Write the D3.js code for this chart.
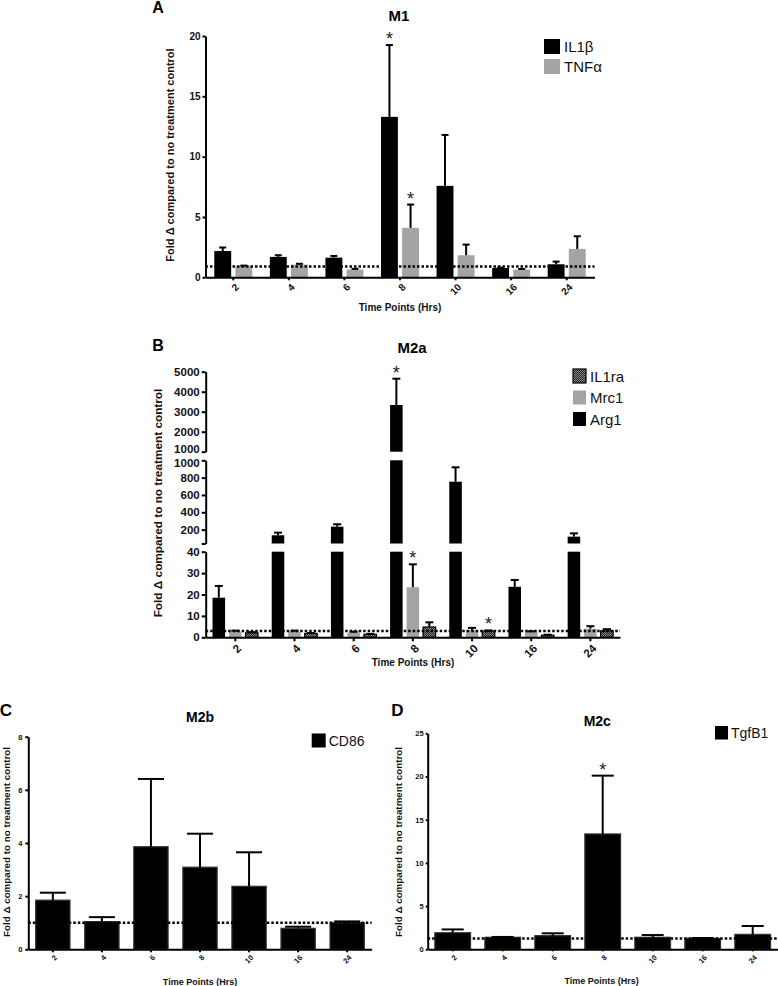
<!DOCTYPE html>
<html><head><meta charset="utf-8">
<script src="https://cdn.jsdelivr.net/npm/d3@7"></script>
<style>
body{margin:0;background:#fff}
text{font-family:"Liberation Sans",Arial,Helvetica,sans-serif}
</style>
</head><body>
<svg id="chart" width="778" height="986"></svg>
<script>
// ---------- DATA ----------
const timePoints = ["2","4","6","8","10","16","24"];

// Panel A (M1)
const il1bMean = [2.18, 1.69, 1.63, 13.3, 7.58, 0.77, 1.08];
const il1bSem  = [0.29, 0.14, 0.14, 5.95, 4.22, 0.03, 0.22];
const tnfaMean = [0.94, 1.05, 0.64, 4.1, 1.83, 0.64, 2.35];
const tnfaSem  = [0.03, 0.07, 0.06, 1.93, 0.88, 0.05, 1.05];
const m1Ref = 0.9;
const m1Stars = [["IL1β","8"],["TNFα","8"]];
const yTicksA = [0,5,10,15,20];

// Panel B (M2a)
const arg1Mean  = [18.5, 135, 234, 3335, 753, 23.6, 119];
const arg1Sem   = [5.5, 30, 28, 1315, 166, 3.2, 38];
const mrc1Mean  = [2.7, 2.7, 2.2, 23.4, 3.4, 2.5, 4.0];
const mrc1Sem   = [0.4, 0.4, 0.4, 10.7, 1.0, 0.3, 1.2];
const il1raMean = [2.1, 1.8, 1.4, 4.8, 2.9, 1.0, 3.0];
const il1raSem  = [0.3, 0.2, 0.2, 2.2, 0.3, 0.2, 0.8];
const m2aRef = 3;
const m2aStars = [["Arg1","8"],["Mrc1","8"],["IL1ra","10"]];
const yTicksB0 = [0,10,20,30,40];
const yTicksB1 = [40,200,400,600,800,1000];
const yTicksB2 = [1000,2000,3000,4000,5000];

// Panel C (M2b)
const cd86Mean = [1.85, 1.04, 3.86, 3.09, 2.37, 0.79, 1.0];
const cd86Sem  = [0.28, 0.17, 2.55, 1.26, 1.28, 0.06, 0.05];
const m2bRef = 1.0;
const yTicksC = [0,2,4,6,8];

// Panel D (M2c)
const tgfMean = [1.92, 1.39, 1.58, 13.35, 1.39, 1.27, 1.73];
const tgfSem  = [0.38, 0.04, 0.27, 6.75, 0.26, 0.04, 0.97];
const m2cRef = 1.25;
const m2cStars = [["TgfB1","8"]];
const yTicksD = [0,5,10,15,20,25];

const yLabel = "Fold Δ compared to no treatment control";
const xLabel = "Time Points (Hrs)";
const GRAY = "#a4a4a4";

// ---------- DRAW ----------
const svg = d3.select("#chart");
const defs = svg.append("defs");
const pat = defs.append("pattern").attr("id","hatch").attr("patternUnits","userSpaceOnUse")
  .attr("width",2).attr("height",2);
pat.append("rect").attr("width",2).attr("height",2).attr("fill","#222");
pat.append("rect").attr("width",1).attr("height",1).attr("fill","#8c8c8c");
pat.append("rect").attr("x",1).attr("y",1).attr("width",1).attr("height",1).attr("fill","#8c8c8c");

function drawPanel(p) {
  const g = svg.append("g");
  const x0 = d3.scaleBand().domain(timePoints).range(p.xRange);
  const x1 = d3.scaleBand().domain(p.series.map(s => s.name))
    .range([(x0.step() - p.groupW) / 2, (x0.step() + p.groupW) / 2]).paddingInner(p.pad);
  const segs = p.segs.map(s => Object.assign({}, s, {scale: d3.scaleLinear().domain(s.domain).range(s.range)}));
  const yOf = v => { for (const s of segs) if (v <= s.domain[1]) return s.scale(v); return segs[segs.length-1].scale(v); };
  const base = segs[0].scale(segs[0].domain[0]);
  const xEnd = p.xRange[1];

  // bars
  p.series.forEach(s => {
    const rows = timePoints.map((t, i) => ({t, m: s.mean[i], e: s.sem[i]}));
    segs.forEach(seg => {
      g.append("g").selectAll("rect").data(rows.filter(r => r.m > seg.domain[0])).join("rect")
        .attr("x", r => x0(r.t) + x1(s.name))
        .attr("width", x1.bandwidth())
        .attr("y", r => seg.scale(Math.min(r.m, seg.domain[1])))
        .attr("height", r => seg.scale(seg.domain[0]) - seg.scale(Math.min(r.m, seg.domain[1])))
        .attr("fill", s.fill)
        .attr("stroke", s.stroke || "none")
        .attr("stroke-width", s.stroke ? 1.2 : 0);
    });
    const eg = g.append("g").selectAll("g").data(rows).join("g");
    const cx = r => x0(r.t) + x1(s.name) + x1.bandwidth() / 2;
    eg.append("line").attr("x1", cx).attr("x2", cx)
      .attr("y1", r => yOf(r.m)).attr("y2", r => yOf(r.m + r.e))
      .attr("stroke", "#000").attr("stroke-width", p.errW);
    eg.append("line").attr("x1", r => cx(r) - p.cap / 2).attr("x2", r => cx(r) + p.cap / 2)
      .attr("y1", r => yOf(r.m + r.e)).attr("y2", r => yOf(r.m + r.e))
      .attr("stroke", "#000").attr("stroke-width", p.errW);
    // stars
    (p.stars || []).filter(st => st[0] === s.name).forEach(st => {
      const i = timePoints.indexOf(st[1]);
      g.append("text").attr("x", x0(st[1]) + x1(s.name) + x1.bandwidth() / 2)
        .attr("y", yOf(s.mean[i] + s.sem[i]) - p.starOff)
        .attr("text-anchor", "middle").attr("font-size", p.starSize)
        .attr("fill", "#222").text("*");
    });
  });

  // reference dotted line
  g.append("line").attr("x1", p.xRange[0]).attr("x2", xEnd)
    .attr("y1", yOf(p.ref)).attr("y2", yOf(p.ref))
    .attr("stroke", "#000").attr("stroke-width", p.dotW).attr("stroke-dasharray", p.dash);

  // y axes (segments)
  segs.forEach(seg => {
    const ax = g.append("g").attr("transform", `translate(${p.xRange[0]},0)`)
      .call(d3.axisLeft(seg.scale).tickValues(seg.ticks).tickSize(p.tickLen).tickPadding(p.tickPad).tickSizeOuter(0)
        .tickFormat(v => (seg.hide && seg.hide.includes(v)) ? "" : d3.format("d")(v)));
    ax.select(".domain").attr("stroke-width", p.axisW);
    ax.selectAll(".tick line").attr("stroke-width", p.axisW);
    ax.selectAll("text").attr("font-size", p.tickFont).attr("font-weight", "bold")
      .attr("font-family", '"Liberation Sans",Arial,sans-serif').attr("fill", "#111")
      .attr("transform", v => (seg.shift && seg.shift[v]) ? `translate(0,${seg.shift[v]})` : null);
  });

  // x axis
  const xa = g.append("g").attr("transform", `translate(0,${base})`)
    .call(d3.axisBottom(x0).tickSize(p.tickLen).tickSizeOuter(0));
  xa.select(".domain").attr("stroke-width", p.axisW);
  xa.selectAll(".tick line").attr("stroke-width", p.axisW);
  xa.selectAll("text").attr("font-size", p.xTickFont).attr("font-weight", "bold")
    .attr("font-family", '"Liberation Sans",Arial,sans-serif').attr("fill", "#111")
    .attr("x", 0).attr("y", 0).attr("dy", "0.35em")
    .attr("text-anchor", "end")
    .attr("transform", `translate(${p.xLabOff[0]},${p.xLabOff[1]}) rotate(-45)`);

  // titles & labels
  g.append("text").attr("x", p.title[0]).attr("y", p.title[1]).attr("text-anchor", "middle")
    .attr("dominant-baseline", "central").attr("font-size", p.titleFont).attr("font-weight", "bold").text(p.titleText);
  g.append("text").attr("x", p.letter[0]).attr("y", p.letter[1]).attr("text-anchor", "middle")
    .attr("dominant-baseline", "central").attr("font-size", p.letterFont).attr("font-weight", "bold").text(p.letterText);
  g.append("text").attr("transform", `translate(${p.yLab[0]},${p.yLab[1]}) rotate(-90)`)
    .attr("text-anchor", "middle").attr("dominant-baseline", "central")
    .attr("font-size", p.yLabFont).attr("font-weight", "bold").attr("fill", "#111").text(yLabel);
  g.append("text").attr("x", p.xLab[0]).attr("y", p.xLab[1]).attr("text-anchor", "middle")
    .attr("dominant-baseline", "central").attr("font-size", p.xLabFont).attr("font-weight", "bold")
    .attr("fill", "#111").text(xLabel);

  // legend
  const L = p.legend;
  const lg = g.append("g").selectAll("g").data(L.items).join("g")
    .attr("transform", (d, i) => `translate(${L.x},${L.y + i * L.gap})`);
  lg.append("rect").attr("width", L.w).attr("height", L.h)
    .attr("fill", d => d.fill).attr("stroke", d => d.stroke || "none").attr("stroke-width", d => d.stroke ? 1.2 : 0);
  lg.append("text").attr("x", L.w + L.tx).attr("y", L.h / 2).attr("dominant-baseline", "central")
    .attr("font-size", L.font).attr("fill", "#111").text(d => d.name);
}

// Panel A
drawPanel({
  xRange: [205.5, 594.5], groupW: 38, pad: 0.2,
  segs: [{domain: [0, 20], range: [277.3, 36], ticks: yTicksA}],
  series: [
    {name: "IL1β", mean: il1bMean, sem: il1bSem, fill: "#000"},
    {name: "TNFα", mean: tnfaMean, sem: tnfaSem, fill: GRAY}
  ],
  ref: m1Ref, stars: m1Stars, starOff: 0, starSize: 18,
  cap: 7, errW: 2, dotW: 2.5, dash: "2.5,2", axisW: 2, tickLen: 3, tickPad: 2,
  tickFont: 10, xTickFont: 10, xLabOff: [4, 8],
  title: [399, 15], titleText: "M1", titleFont: 15,
  letter: [158, 7], letterText: "A", letterFont: 16,
  yLab: [170, 155], yLabFont: 11, xLab: [400, 307], xLabFont: 10,
  legend: {x: 544, y: 39, w: 16, h: 15, gap: 20, tx: 4, font: 15,
    items: [{name: "IL1β", fill: "#000"}, {name: "TNFα", fill: GRAY}]}
});

// Panel B
drawPanel({
  xRange: [205.7, 620], groupW: 45.5, pad: 0.24,
  segs: [
    {domain: [0, 40], range: [637.3, 551.7], ticks: yTicksB0},
    {domain: [40, 1000], range: [543.5, 460.3], ticks: yTicksB1, hide: [40], shift: {1000: 2.6}},
    {domain: [1000, 5000], range: [451.7, 371.7], ticks: yTicksB2, shift: {1000: -2.6}}
  ],
  series: [
    {name: "Arg1", mean: arg1Mean, sem: arg1Sem, fill: "#000"},
    {name: "Mrc1", mean: mrc1Mean, sem: mrc1Sem, fill: GRAY},
    {name: "IL1ra", mean: il1raMean, sem: il1raSem, fill: "url(#hatch)", stroke: "#000"}
  ],
  ref: m2aRef, stars: m2aStars, starOff: 0, starSize: 18,
  cap: 8, errW: 2, dotW: 2.5, dash: "2.5,2", axisW: 2, tickLen: 4, tickPad: 2,
  tickFont: 11.5, xTickFont: 11.5, xLabOff: [4, 9],
  title: [412, 347], titleText: "M2a", titleFont: 15,
  letter: [158, 345], letterText: "B", letterFont: 16,
  yLab: [158, 503], yLabFont: 11.8, xLab: [413, 662], xLabFont: 10,
  legend: {x: 573, y: 369, w: 13, h: 14, gap: 21.5, tx: 4, font: 15,
    items: [{name: "IL1ra", fill: "url(#hatch)", stroke: "#000"}, {name: "Mrc1", fill: GRAY}, {name: "Arg1", fill: "#000"}]}
});

// Panel C
drawPanel({
  xRange: [28.3, 371.7], groupW: 34.3, pad: 0,
  segs: [{domain: [0, 8], range: [949.3, 736.7], ticks: yTicksC}],
  series: [{name: "CD86", mean: cd86Mean, sem: cd86Sem, fill: "#000", stroke: "#333"}],
  ref: m2bRef, stars: [], starOff: 0, starSize: 18,
  cap: 26, errW: 2, dotW: 2.5, dash: "2.5,2", axisW: 2, tickLen: 3, tickPad: 3,
  tickFont: 7.5, xTickFont: 7.5, xLabOff: [3, 7],
  title: [200, 716.7], titleText: "M2b", titleFont: 14,
  letter: [6, 710], letterText: "C", letterFont: 17,
  yLab: [6, 842], yLabFont: 9.8, xLab: [200, 981.7], xLabFont: 9,
  legend: {x: 311.7, y: 733.5, w: 14, h: 14, gap: 20, tx: 3, font: 14,
    items: [{name: "CD86", fill: "#000"}]}
});

// Panel D
drawPanel({
  xRange: [427.7, 777.7], groupW: 35.7, pad: 0,
  segs: [{domain: [0, 25], range: [949.3, 733.3], ticks: yTicksD}],
  series: [{name: "TgfB1", mean: tgfMean, sem: tgfSem, fill: "#000", stroke: "#333"}],
  ref: m2cRef, stars: m2cStars, starOff: 0, starSize: 18,
  cap: 22, errW: 2, dotW: 2.5, dash: "2.5,2", axisW: 2, tickLen: 2, tickPad: 2,
  tickFont: 7.5, xTickFont: 7.5, xLabOff: [3, 7],
  title: [597.3, 720.7], titleText: "M2c", titleFont: 14,
  letter: [397.5, 710], letterText: "D", letterFont: 17,
  yLab: [398.5, 842], yLabFont: 9.8, xLab: [601.7, 981], xLabFont: 9,
  legend: {x: 715, y: 726, w: 13, h: 13.5, gap: 20, tx: 3, font: 14,
    items: [{name: "TgfB1", fill: "#000"}]}
});
</script>
</body></html>
